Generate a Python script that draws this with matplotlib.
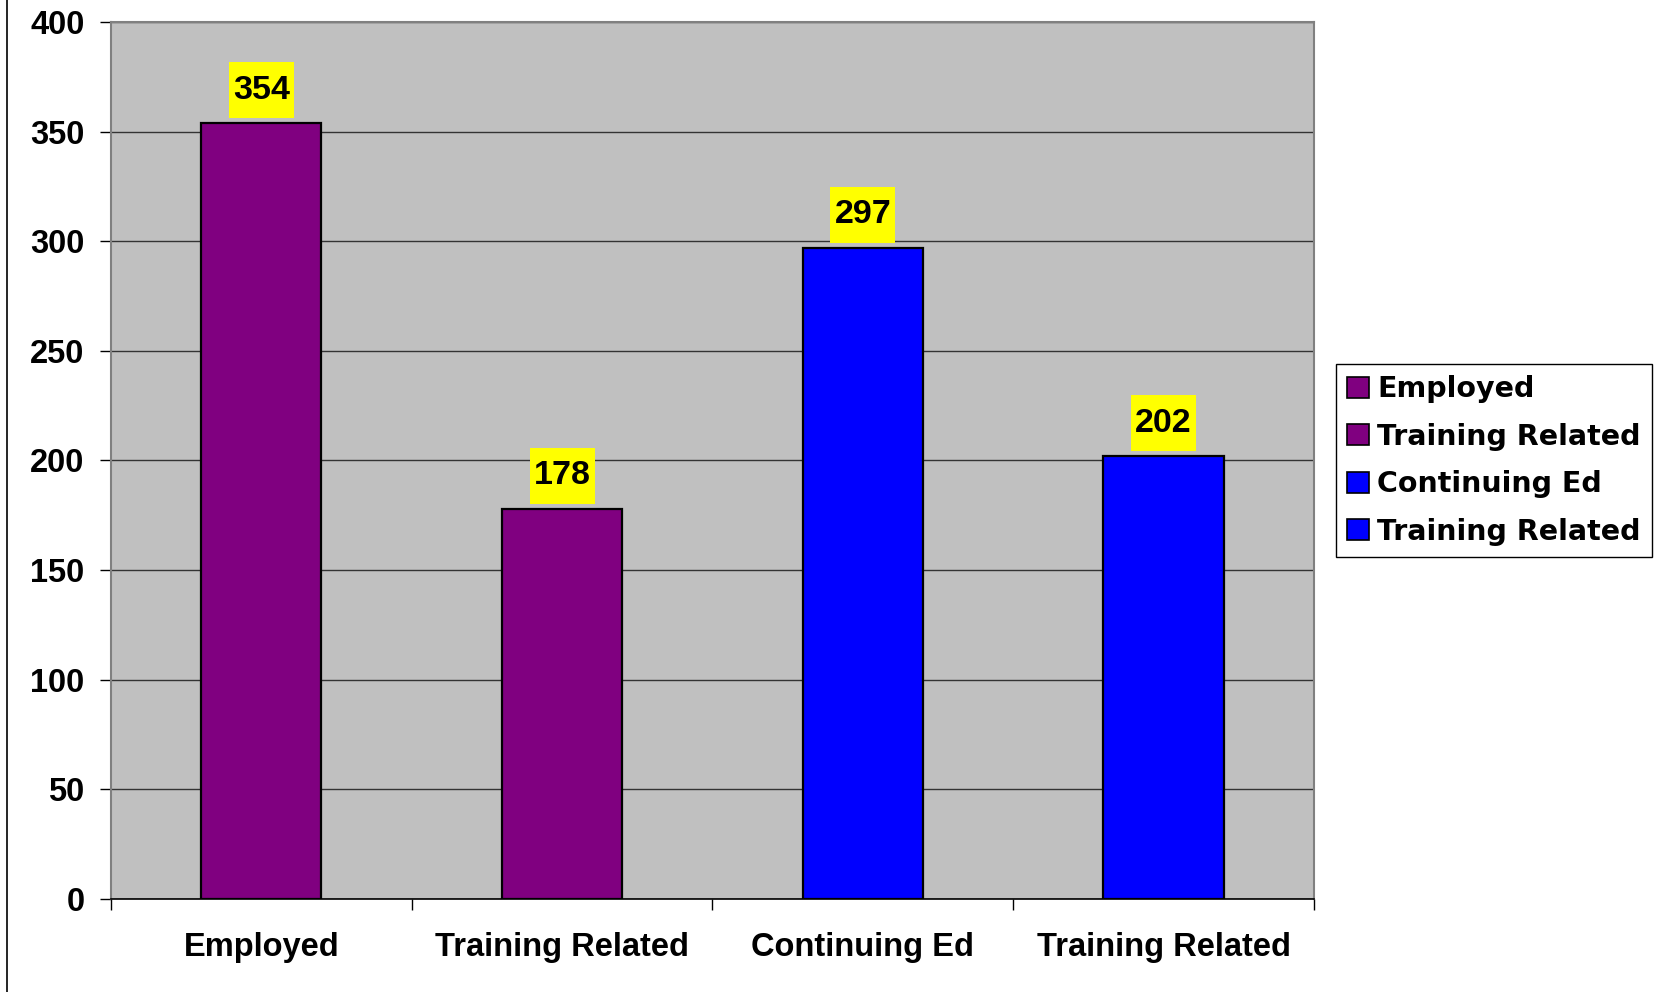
import numpy as np
import matplotlib.pyplot as plt
from matplotlib.patches import Patch
from matplotlib.lines import Line2D
from matplotlib.path import Path

# values
categories = ['Employed', 'Training Related', 'Continuing Ed', 'Training Related']
counts = [354, 178, 297, 202]
bar_colors = ['#800080', '#800080', '#0000FF', '#0000FF']


def tall_box(x0, y0, width, height, mutation_size):
    # label box with more padding above/below than at the sides
    px = 0.12 * mutation_size
    py = 0.37 * mutation_size
    verts = [(x0 - px, y0 - py), (x0 + width + px, y0 - py),
             (x0 + width + px, y0 + height + py), (x0 - px, y0 + height + py),
             (x0 - px, y0 - py)]
    return Path(verts, closed=True)


fig = plt.figure(figsize=(16.56, 9.92), dpi=100)
ax = fig.add_axes([0.067, 0.0938, 0.7265, 0.884])
ax.set_facecolor('#C0C0C0')

x = np.arange(len(categories))
bars = ax.bar(x, counts, width=0.4, color=bar_colors, edgecolor='black',
              linewidth=1.6, zorder=3)

# value labels in yellow boxes
for xi, v in zip(x, counts):
    ax.annotate(str(v), (xi, v), xytext=(0, 12.5), textcoords='offset points',
                ha='center', va='bottom', fontsize=24.5, fontweight='bold',
                family='Liberation Sans', zorder=4,
                bbox=dict(boxstyle=tall_box, fc='#FFFF00', ec='none'))

ax.set_ylim(0, 400)
ax.set_xlim(-0.5, len(categories) - 0.5)
ax.set_yticks(range(0, 401, 50))
ax.yaxis.grid(True, color='#333333', linewidth=1.0, zorder=1)
ax.set_axisbelow(True)

# category boundaries get the tick marks, centres get the labels
ax.set_xticks(np.arange(-0.5, len(categories), 1.0))
ax.set_xticklabels([])
ax.set_xticks(x, minor=True)
ax.set_xticklabels(categories, minor=True)
ax.tick_params(axis='x', which='major', direction='out', length=8, width=1,
               color='black')
ax.tick_params(axis='x', which='minor', length=0, pad=24)
ax.tick_params(axis='y', direction='out', length=8, width=1, color='black',
               pad=11)

for lab in ax.get_xticklabels(minor=True) + ax.get_yticklabels():
    lab.set_fontsize(23.5)
    lab.set_fontweight('bold')
    lab.set_family('Liberation Sans')

for side in ['top', 'right', 'left']:
    ax.spines[side].set_color('#808080')
    ax.spines[side].set_linewidth(1.5)
ax.spines['bottom'].set_color('black')
ax.spines['bottom'].set_linewidth(1.2)

handles = [Patch(facecolor=c, edgecolor='black', linewidth=1.2) for c in bar_colors]
leg = ax.legend(handles, categories, loc='upper left',
                bbox_to_anchor=(0.8068, 0.633), bbox_transform=fig.transFigure,
                borderaxespad=0, fancybox=False, edgecolor='black',
                framealpha=1, handlelength=0.75, handleheight=0.75,
                handletextpad=0.3, labelspacing=0.68, borderpad=0.4,
                prop={'family': 'DejaVu Sans', 'weight': 'bold', 'size': 20.5})
leg.get_frame().set_linewidth(1.0)

# chart area border on the left
fig.add_artist(Line2D([0.0045, 0.0045], [0, 1], color='black', linewidth=1.2,
                      transform=fig.transFigure))

fig.savefig('out.png', dpi=100)
